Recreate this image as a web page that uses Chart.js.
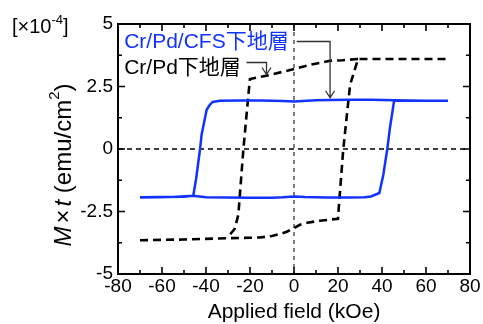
<!DOCTYPE html>
<html><head><meta charset="utf-8">
<script src="https://cdn.jsdelivr.net/npm/chart.js@4"></script>
<style>html,body{margin:0;padding:0;background:#fff;}canvas{display:block;}</style>
</head><body>
<canvas id="c" width="483" height="324"></canvas>
<script>
// ---- data ----
const xTicks = [-80, -60, -40, -20, 0, 20, 40, 60, 80];
const yTicks = [-5, -2.5, 0, 2.5, 5];
const seriesNames = ["Cr/Pd/CFS下地層", "Cr/Pd下地層"];
// Cr/Pd/CFS underlayer (blue loop: ascending then descending)
const blueX = [-70,-60,-50,-46,-40,-30,-20,-10,-5,0,5,15,25,32,35,38.8,40.6,42.4,43.6,45.5,55,70,
               60,45.5,35,25,16,10,0,-5,-15,-25,-33.6,-37,-38.5,-39.7,-42,-42.7,-44.5,-45.8,-55,-70];
const blueY = [-1.93,-1.92,-1.91,-1.87,-1.93,-1.94,-1.95,-1.95,-1.93,-1.9,-1.92,-1.94,-1.94,-1.93,-1.9,-1.76,-1.03,0,0.84,1.93,1.93,1.93,
               1.93,1.95,1.97,1.97,1.96,1.95,1.9,1.92,1.94,1.94,1.93,1.88,1.74,1.57,0.57,0,-1.2,-1.87,-1.92,-1.94];
// Cr/Pd underlayer (black dashed loop): ascending branch
const blackAscX = [-70,-50,-30.5,-20,-15.5,-10,-6.4,-3,0,2.7,6,11.8,20,20.1,22.4,25.5,29.1,40,55,70];
const blackAscY = [-3.65,-3.62,-3.57,-3.55,-3.54,-3.48,-3.4,-3.3,-3.16,-3.03,-2.95,-2.87,-2.79,-2.63,0,2.57,3.6,3.6,3.6,3.6];
// descending branch (from where it leaves the shared top to where it meets the shared bottom)
const blackDescX = [29.1,22,16.4,7.3,0,-10.5,-20,-20.3,-23,-25.3,-27,-30.5];
const blackDescY = [3.6,3.55,3.53,3.37,3.2,2.97,2.8,2.57,0,-2.63,-3.2,-3.57];

const FONT = '"Liberation Sans", Arial, "Noto Sans CJK JP", sans-serif';
const BLUE = '#1233ff';

const pts = (xs, ys) => xs.map((x, i) => ({x: x, y: ys[i]}));

const deco = {
  id: 'deco',
  beforeDatasetsDraw(chart) {
    const {ctx, chartArea: a, scales: {x, y}} = chart;
    ctx.save();
    ctx.strokeStyle = '#000';
    ctx.lineWidth = 1.3;
    ctx.setLineDash([5, 4]);
    ctx.beginPath();
    ctx.moveTo(a.left, y.getPixelForValue(0));
    ctx.lineTo(a.right, y.getPixelForValue(0));
    ctx.stroke();
    ctx.lineWidth = 1;
    ctx.setLineDash([4, 4]);
    ctx.beginPath();
    ctx.moveTo(x.getPixelForValue(0), a.top);
    ctx.lineTo(x.getPixelForValue(0), a.bottom);
    ctx.stroke();
    ctx.restore();
  },
  afterDatasetsDraw(chart) {
    const {ctx, chartArea: a, scales: {x, y}} = chart;
    ctx.save();
    ctx.strokeStyle = '#000';
    ctx.setLineDash([]);
    ctx.lineWidth = 1.6;
    const maj = 7, mn = 4;
    for (let v = -80; v <= 80; v += 10) {
      const px = x.getPixelForValue(v);
      const L = (v % 20 === 0) ? maj : mn;
      ctx.beginPath();
      ctx.moveTo(px, a.bottom); ctx.lineTo(px, a.bottom - L);
      ctx.moveTo(px, a.top); ctx.lineTo(px, a.top + L);
      ctx.stroke();
    }
    for (let v = -5; v <= 5; v += 1.25) {
      const py = y.getPixelForValue(v);
      const L = (Math.abs(v / 2.5 - Math.round(v / 2.5)) < 1e-6) ? maj : mn;
      ctx.beginPath();
      ctx.moveTo(a.left, py); ctx.lineTo(a.left + L, py);
      ctx.moveTo(a.right, py); ctx.lineTo(a.right - L, py);
      ctx.stroke();
    }
    ctx.lineWidth = 2;
    ctx.strokeRect(a.left, a.top, a.right - a.left, a.bottom - a.top);
    ctx.restore();
  },
  afterDraw(chart) {
    const {ctx, chartArea: a, scales: {x, y}} = chart;
    ctx.save();
    // series labels
    ctx.textBaseline = 'middle';
    ctx.textAlign = 'left';
    ctx.font = '21px ' + FONT;
    ctx.fillStyle = BLUE;
    ctx.fillText(seriesNames[0], x.getPixelForValue(-77.2), y.getPixelForValue(4.29));
    ctx.fillStyle = '#000';
    ctx.fillText(seriesNames[1], x.getPixelForValue(-77.2), y.getPixelForValue(3.25));
    // arrows
    const arrow = (x0, yv0, x1, yv1) => {
      const X0 = x.getPixelForValue(x0), Y0 = y.getPixelForValue(yv0);
      const X1 = x.getPixelForValue(x1), Y1 = y.getPixelForValue(yv1);
      ctx.strokeStyle = '#333';
      ctx.lineWidth = 1.3;
      ctx.beginPath();
      ctx.moveTo(X0, Y0); ctx.lineTo(X1, Y0); ctx.lineTo(X1, Y1);
      ctx.moveTo(X1 - 4.5, Y1 - 7); ctx.lineTo(X1, Y1); ctx.lineTo(X1 + 4.5, Y1 - 7);
      ctx.stroke();
    };
    arrow(1.2, 4.3, 16.4, 2.05);
    arrow(-21.6, 3.46, -12.5, 2.98);
    // axis titles
    ctx.fillStyle = '#000';
    ctx.textAlign = 'center';
    ctx.textBaseline = 'middle';
    ctx.font = '21px ' + FONT;
    ctx.fillText('Applied field (kOe)', (a.left + a.right) / 2, 312);
    const parts = [
      {t: 'M', f: 'italic 24px ' + FONT, dy: 0, gap: 3},
      {t: '×', f: '24px ' + FONT, dy: 0, gap: 3},
      {t: 't', f: 'italic 24px ' + FONT, dy: 0, gap: 0},
      {t: ' (emu/cm', f: '24px ' + FONT, dy: 0, gap: 0},
      {t: '2', f: '15px ' + FONT, dy: -9, gap: 0},
      {t: ')', f: '24px ' + FONT, dy: 0, gap: 0}
    ];
    let total = 0;
    parts.forEach(p => { ctx.font = p.f; p.w = ctx.measureText(p.t).width + p.gap; total += p.w; });
    ctx.translate(64, 165);
    ctx.rotate(-Math.PI / 2);
    ctx.textAlign = 'left';
    ctx.textBaseline = 'middle';
    let cx = -total / 2;
    parts.forEach(p => { ctx.font = p.f; ctx.fillText(p.t, cx, p.dy); cx += p.w; });
    ctx.setTransform(1, 0, 0, 1, 0, 0);
    ctx.textAlign = 'left';
    ctx.textBaseline = 'middle';
    const ex = [
      {t: '[×10', f: '20px ' + FONT, dy: 0},
      {t: '-4', f: '13px ' + FONT, dy: -7},
      {t: ']', f: '20px ' + FONT, dy: 0}
    ];
    let ex0 = 12;
    ex.forEach(p => { ctx.font = p.f; ctx.fillText(p.t, ex0, 27 + p.dy); ex0 += ctx.measureText(p.t).width; });
    ctx.restore();
  }
};

new Chart(document.getElementById('c'), {
  type: 'scatter',
  data: {
    datasets: [
      {label: seriesNames[0], data: pts(blueX, blueY), showLine: true, borderColor: BLUE, borderWidth: 2.5,
       pointRadius: 0, tension: 0, fill: false},
      {label: seriesNames[1], data: pts(blackAscX, blackAscY), showLine: true, borderColor: '#000', borderWidth: 2.6,
       borderDash: [8, 5], pointRadius: 0, tension: 0, fill: false},
      {label: seriesNames[1] + ' ', data: pts(blackDescX, blackDescY), showLine: true, borderColor: '#000', borderWidth: 2.6,
       borderDash: [8, 5], pointRadius: 0, tension: 0, fill: false}
    ]
  },
  options: {
    responsive: false,
    animation: false,
    devicePixelRatio: 1,
    layout: {padding: {left: 0, right: 13, top: 24, bottom: 0}},
    plugins: {legend: {display: false}, tooltip: {enabled: false}, title: {display: false}},
    scales: {
      x: {
        type: 'linear', min: xTicks[0], max: xTicks[xTicks.length - 1],
        afterBuildTicks: s => { s.ticks = xTicks.map(v => ({value: v})); },
        afterFit: s => { s.height = 50; },
        grid: {display: false, drawTicks: false},
        border: {display: false},
        ticks: {autoSkip: false, maxRotation: 0, padding: 1, color: '#000',
                font: {family: FONT, size: 19}, callback: v => String(v)}
      },
      y: {
        type: 'linear', min: yTicks[0], max: yTicks[yTicks.length - 1],
        afterBuildTicks: s => { s.ticks = yTicks.map(v => ({value: v})); },
        afterFit: s => { s.width = 118; },
        grid: {display: false, drawTicks: false},
        border: {display: false},
        ticks: {autoSkip: false, padding: 5, color: '#000',
                font: {family: FONT, size: 19}, callback: v => String(v)}
      }
    }
  },
  plugins: [deco]
});
</script>
</body></html>
